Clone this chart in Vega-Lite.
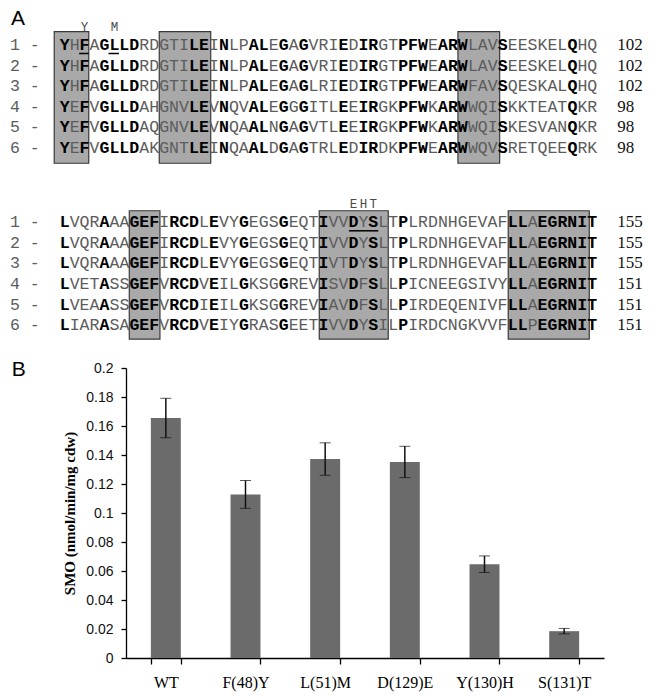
{
  "$schema": "https://vega.github.io/schema/vega-lite/v6.json",
  "padding": {"left": 9, "top": 0, "right": 0, "bottom": 5},
  "spacing": 0,
  "background": "white",
  "config": {"view": {"stroke": null}},
  "vconcat": [
    {
      "width": 478,
      "height": 180,
      "encoding": {
        "x": {"field": "col", "type": "quantitative", "scale": {"domain": [6.66, 54.67], "nice": false, "zero": false}, "axis": null},
        "y": {"field": "seq", "type": "quantitative", "scale": {"domain": [-1.1845, 7.553], "nice": false, "zero": false, "reverse": true}, "axis": null}
      },
      "layer": [
        {
          "data": {"values": [
            {"col": -0.55, "col2": 2.92, "seq": 0.35, "seq2": 6.74},
            {"col": 10.0, "col2": 15.17, "seq": 0.35, "seq2": 6.74},
            {"col": 40.0, "col2": 44.19, "seq": 0.35, "seq2": 6.74}
          ]},
          "mark": {"type": "rect", "fill": "#a9a9a9", "stroke": "#3a3a3a", "strokeWidth": 1.2},
          "encoding": {"x2": {"field": "col2"}, "y2": {"field": "seq2"}}
        },
        {
          "data": {"values": [
            {"col": -5, "seq": 1, "res": ["1 -", "2 -", "3 -", "4 -", "5 -", "6 -"]},
            {"col": 1, "seq": 1, "res": ["H", "H", "H", "E", "E", "E"]},
            {"col": 3, "seq": 1, "res": ["A", "A", "A", "V", "V", "V"]},
            {"col": 8, "seq": 1, "res": ["RDGTI", "RDGTI", "RDGTI", "AHGNV", "AQGNV", "AKGNT"]},
            {"col": 15, "seq": 1, "res": ["I", "I", "I", "V", "V", "I"]},
            {"col": 17, "seq": 1, "res": ["LP", "LP", "LP", "QV", "QA", "QA"]},
            {"col": 21, "seq": 1, "res": ["E", "E", "E", "E", "N", "D"]},
            {"col": 23, "seq": 1, "res": ["A", "A", "A", "G", "A", "A"]},
            {"col": 25, "seq": 1, "res": ["VRI", "VRI", "LRI", "ITL", "VTL", "TRL"]},
            {"col": 29, "seq": 1, "res": ["D", "D", "D", "E", "E", "D"]},
            {"col": 32, "seq": 1, "res": ["GT", "GT", "GT", "GK", "GK", "DK"]},
            {"col": 37, "seq": 1, "res": ["E", "E", "E", "K", "K", "E"]},
            {"col": 41, "seq": 1, "res": ["LAV", "LAV", "FAV", "WQI", "WQI", "WQV"]},
            {"col": 45, "seq": 1, "res": ["EESKEL", "EESKEL", "QESKAL", "KKTEAT", "KESVAN", "RETQEE"]},
            {"col": 52, "seq": 1, "res": ["HQ", "HQ", "HQ", "KR", "KR", "RK"]}
          ]},
          "mark": {"type": "text", "font": "Liberation Mono", "fontSize": 16.55, "lineHeight": 20.6, "align": "left", "baseline": "middle", "color": "#5c5c5c"},
          "encoding": {"text": {"field": "res"}}
        },
        {
          "data": {"values": [
            {"col": 0, "seq": 1, "res": ["Y", "Y", "Y", "Y", "Y", "Y"]},
            {"col": 2, "seq": 1, "res": ["F", "F", "F", "F", "F", "F"]},
            {"col": 4, "seq": 1, "res": ["GLLD", "GLLD", "GLLD", "GLLD", "GLLD", "GLLD"]},
            {"col": 13, "seq": 1, "res": ["LE", "LE", "LE", "LE", "LE", "LE"]},
            {"col": 16, "seq": 1, "res": ["N", "N", "N", "N", "N", "N"]},
            {"col": 19, "seq": 1, "res": ["AL", "AL", "AL", "AL", "AL", "AL"]},
            {"col": 22, "seq": 1, "res": ["G", "G", "G", "G", "G", "G"]},
            {"col": 24, "seq": 1, "res": ["G", "G", "G", "G", "G", "G"]},
            {"col": 28, "seq": 1, "res": ["E", "E", "E", "E", "E", "E"]},
            {"col": 30, "seq": 1, "res": ["IR", "IR", "IR", "IR", "IR", "IR"]},
            {"col": 34, "seq": 1, "res": ["PFW", "PFW", "PFW", "PFW", "PFW", "PFW"]},
            {"col": 38, "seq": 1, "res": ["ARW", "ARW", "ARW", "ARW", "ARW", "ARW"]},
            {"col": 44, "seq": 1, "res": ["S", "S", "S", "S", "S", "S"]},
            {"col": 51, "seq": 1, "res": ["Q", "Q", "Q", "Q", "Q", "Q"]}
          ]},
          "mark": {"type": "text", "font": "Liberation Mono", "fontSize": 16.55, "lineHeight": 20.6, "fontWeight": "bold", "align": "left", "baseline": "middle", "color": "#000000"},
          "encoding": {"text": {"field": "res"}}
        },
        {
          "data": {"values": [
            {"col": 56, "seq": 1, "res": ["102", "102", "102", "98", "98", "98"]}
          ]},
          "mark": {"type": "text", "font": "Liberation Serif", "fontSize": 17, "lineHeight": 20.6, "align": "left", "baseline": "middle", "color": "#111111"},
          "encoding": {"text": {"field": "res"}}
        },
        {
          "data": {"values": [
            {"col": 1.95, "col2": 2.9, "seq": 1},
            {"col": 4.9, "col2": 5.95, "seq": 1}
          ]},
          "mark": {"type": "rule", "color": "#000000", "strokeWidth": 1.5, "yOffset": 8.5},
          "encoding": {"x2": {"field": "col2"}}
        },
        {
          "data": {"values": [
            {"col": 2, "seq": 0.12, "aa": "Y"},
            {"col": 5, "seq": 0.12, "aa": "M"}
          ]},
          "mark": {"type": "text", "font": "Liberation Mono", "fontSize": 12.5, "align": "center", "baseline": "middle", "xOffset": 5, "color": "#4a4a4a"},
          "encoding": {"text": {"field": "aa"}}
        },
        {
          "data": {"values": [{"label": "A", "col": -4.9, "seq": -0.26}]},
          "mark": {"type": "text", "font": "Liberation Sans", "fontSize": 21, "align": "left", "baseline": "middle", "color": "#000000"},
          "encoding": {"text": {"field": "label"}}
        }
      ]
    },
    {
      "width": 478,
      "height": 178.5,
      "encoding": {
        "x": {"field": "col", "type": "quantitative", "scale": {"domain": [6.66, 54.67], "nice": false, "zero": false}, "axis": null},
        "y": {"field": "seq", "type": "quantitative", "scale": {"domain": [-1.0534, 7.612], "nice": false, "zero": false, "reverse": true}, "axis": null}
      },
      "layer": [
        {
          "data": {"values": [
            {"col": 6.99, "col2": 10.07, "seq": 0.44, "seq2": 6.67},
            {"col": 26.07, "col2": 33.0, "seq": 0.44, "seq2": 6.67},
            {"col": 45.05, "col2": 53.19, "seq": 0.44, "seq2": 6.67}
          ]},
          "mark": {"type": "rect", "fill": "#a9a9a9", "stroke": "#3a3a3a", "strokeWidth": 1.2},
          "encoding": {"x2": {"field": "col2"}, "y2": {"field": "seq2"}}
        },
        {
          "data": {"values": [
            {"col": -5, "seq": 1, "res": ["1 -", "2 -", "3 -", "4 -", "5 -", "6 -"]},
            {"col": 1, "seq": 1, "res": ["VQR", "VQR", "VQR", "VET", "VEA", "IAR"]},
            {"col": 5, "seq": 1, "res": ["AA", "AA", "AA", "SS", "SS", "SA"]},
            {"col": 10, "seq": 1, "res": ["I", "I", "I", "V", "V", "V"]},
            {"col": 14, "seq": 1, "res": ["L", "L", "L", "V", "I", "V"]},
            {"col": 16, "seq": 1, "res": ["VY", "VY", "VY", "IL", "IL", "IY"]},
            {"col": 19, "seq": 1, "res": ["EGS", "EGS", "EGS", "KSG", "KSG", "RAS"]},
            {"col": 23, "seq": 1, "res": ["EQT", "EQT", "EQT", "REV", "REV", "EET"]},
            {"col": 27, "seq": 1, "res": ["VV", "VV", "VT", "SV", "AV", "VV"]},
            {"col": 30, "seq": 1, "res": ["Y", "Y", "Y", "F", "F", "Y"]},
            {"col": 32, "seq": 1, "res": ["LT", "LT", "LT", "LL", "LL", "IL"]},
            {"col": 35, "seq": 1, "res": ["LRDNHGEVAF", "LRDNHGEVAF", "LRDNHGEVAF", "ICNEEGSIVY", "IRDEQENIVF", "IRDCNGKVVF"]},
            {"col": 47, "seq": 1, "res": ["A", "A", "A", "A", "A", "P"]}
          ]},
          "mark": {"type": "text", "font": "Liberation Mono", "fontSize": 16.55, "lineHeight": 20.6, "align": "left", "baseline": "middle", "color": "#5c5c5c"},
          "encoding": {"text": {"field": "res"}}
        },
        {
          "data": {"values": [
            {"col": 0, "seq": 1, "res": ["L", "L", "L", "L", "L", "L"]},
            {"col": 4, "seq": 1, "res": ["A", "A", "A", "A", "A", "A"]},
            {"col": 7, "seq": 1, "res": ["GEF", "GEF", "GEF", "GEF", "GEF", "GEF"]},
            {"col": 11, "seq": 1, "res": ["RCD", "RCD", "RCD", "RCD", "RCD", "RCD"]},
            {"col": 15, "seq": 1, "res": ["E", "E", "E", "E", "E", "E"]},
            {"col": 18, "seq": 1, "res": ["G", "G", "G", "G", "G", "G"]},
            {"col": 22, "seq": 1, "res": ["G", "G", "G", "G", "G", "G"]},
            {"col": 26, "seq": 1, "res": ["I", "I", "I", "I", "I", "I"]},
            {"col": 29, "seq": 1, "res": ["D", "D", "D", "D", "D", "D"]},
            {"col": 31, "seq": 1, "res": ["S", "S", "S", "S", "S", "S"]},
            {"col": 34, "seq": 1, "res": ["P", "P", "P", "P", "P", "P"]},
            {"col": 45, "seq": 1, "res": ["LL", "LL", "LL", "LL", "LL", "LL"]},
            {"col": 48, "seq": 1, "res": ["EGRNIT", "EGRNIT", "EGRNIT", "EGRNIT", "EGRNIT", "EGRNIT"]}
          ]},
          "mark": {"type": "text", "font": "Liberation Mono", "fontSize": 16.55, "lineHeight": 20.6, "fontWeight": "bold", "align": "left", "baseline": "middle", "color": "#000000"},
          "encoding": {"text": {"field": "res"}}
        },
        {
          "data": {"values": [
            {"col": 56, "seq": 1, "res": ["155", "155", "155", "151", "151", "151"]}
          ]},
          "mark": {"type": "text", "font": "Liberation Serif", "fontSize": 17, "lineHeight": 20.6, "align": "left", "baseline": "middle", "color": "#111111"},
          "encoding": {"text": {"field": "res"}}
        },
        {
          "data": {"values": [
            {"col": 29.05, "col2": 32.0, "seq": 1}
          ]},
          "mark": {"type": "rule", "color": "#000000", "strokeWidth": 1.5, "yOffset": 8.5},
          "encoding": {"x2": {"field": "col2"}}
        },
        {
          "data": {"values": [
            {"col": 29, "seq": 0.12, "aa": "E"},
            {"col": 30, "seq": 0.12, "aa": "H"},
            {"col": 31, "seq": 0.12, "aa": "T"}
          ]},
          "mark": {"type": "text", "font": "Liberation Mono", "fontSize": 12.5, "align": "center", "baseline": "middle", "xOffset": 5, "color": "#4a4a4a"},
          "encoding": {"text": {"field": "aa"}}
        },
        {
          "data": {"values": [{"sep": "panel break"}]},
          "mark": {"type": "rule", "color": "#9a9a9a", "strokeWidth": 1},
          "encoding": {"x": {"datum": -6.0}, "x2": {"datum": 59.7}, "y": {"datum": 7.2}}
        }
      ]
    },
    {
      "width": 478,
      "height": 290,
      "data": {"values": [
        {"mut": "WT", "smo": 0.1655, "err": 0.0136},
        {"mut": "F(48)Y", "smo": 0.1128, "err": 0.0096},
        {"mut": "L(51)M", "smo": 0.1372, "err": 0.0112},
        {"mut": "D(129)E", "smo": 0.1352, "err": 0.0108},
        {"mut": "Y(130)H", "smo": 0.0647, "err": 0.0057},
        {"mut": "S(131)T", "smo": 0.0185, "err": 0.0019}
      ]},
      "encoding": {
        "x": {
          "field": "mut", "type": "nominal", "sort": null,
          "scale": {"paddingInner": 0.624, "paddingOuter": 0.312},
          "axis": {"title": null, "labelAngle": 0, "labelFont": "Liberation Serif", "labelFontSize": 16, "labelColor": "#000000", "tickBand": "extent", "tickSize": 6, "tickColor": "#000000", "tickWidth": 1.3, "domainColor": "#000000", "domainWidth": 1.3, "labelPadding": 10}
        },
        "y": {
          "field": "smo", "type": "quantitative",
          "scale": {"domain": [0, 0.2], "nice": false},
          "axis": {"title": "SMO (nmol/min/mg cdw)", "titleFont": "Liberation Serif", "titleFontWeight": "bold", "titleFontSize": 15, "titleColor": "#000000", "titlePadding": 8, "values": [0, 0.02, 0.04, 0.06, 0.08, 0.1, 0.12, 0.14, 0.16, 0.18, 0.2], "format": "~g", "labelFont": "Liberation Sans", "labelFontSize": 14, "labelColor": "#111111", "labelPadding": 8, "tickSize": 5, "tickColor": "#000000", "tickWidth": 1.3, "domainColor": "#000000", "domainWidth": 1.3, "grid": false}
        }
      },
      "layer": [
        {"mark": {"type": "bar", "color": "#6b6b6b"}},
        {
          "mark": {"type": "errorbar", "ticks": {"size": 11, "color": "#111111", "strokeWidth": 1.5}, "rule": {"color": "#111111", "strokeWidth": 1.5}},
          "encoding": {"yError": {"field": "err"}}
        },
        {
          "data": {"values": [{"label": "B", "mut": "WT", "smo": 0.2}]},
          "mark": {"type": "text", "font": "Liberation Sans", "fontSize": 21, "align": "left", "baseline": "middle", "dx": -154, "dy": 2, "color": "#000000"},
          "encoding": {"text": {"field": "label"}}
        }
      ]
    }
  ]
}
